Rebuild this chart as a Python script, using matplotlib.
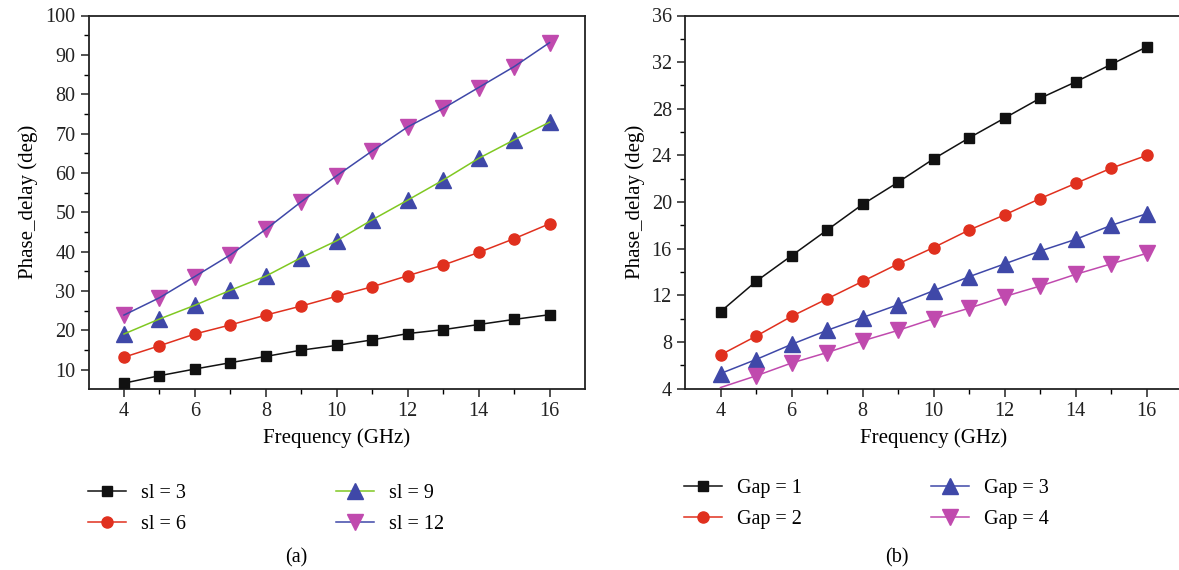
import numpy as np
import matplotlib
matplotlib.use('Agg')
import matplotlib.pyplot as plt
from matplotlib.lines import Line2D
from matplotlib.ticker import MultipleLocator

plt.rcParams['font.family'] = ['Liberation Serif', 'DejaVu Serif']

# data
freq = [4, 5, 6, 7, 8, 9, 10, 11, 12, 13, 14, 15, 16]

sl3 = [6.6, 8.5, 10.2, 11.8, 13.4, 15.0, 16.2, 17.6, 19.2, 20.2, 21.5, 22.8, 24.0]
sl6 = [13.2, 16.1, 19.1, 21.4, 23.9, 26.2, 28.7, 31.1, 33.9, 36.6, 39.8, 43.3, 47.1]
sl9 = [19.1, 22.9, 26.4, 30.2, 33.8, 38.5, 42.8, 48.1, 53.1, 58.2, 63.7, 68.4, 72.9]
sl12 = [23.9, 28.3, 33.7, 39.2, 45.7, 52.7, 59.3, 65.6, 71.7, 76.4, 81.7, 87.0, 93.1]

gap1 = [10.6, 13.2, 15.4, 17.6, 19.8, 21.7, 23.7, 25.5, 27.2, 28.9, 30.3, 31.8, 33.3]
gap2 = [6.9, 8.5, 10.2, 11.7, 13.2, 14.7, 16.1, 17.6, 18.9, 20.3, 21.6, 22.9, 24.0]
gap3 = [5.3, 6.5, 7.8, 9.0, 10.1, 11.2, 12.4, 13.6, 14.7, 15.8, 16.8, 18.0, 19.0]
gap4 = [4.1, 5.1, 6.2, 7.1, 8.1, 9.0, 10.0, 10.9, 11.9, 12.8, 13.8, 14.7, 15.6]

labels_a = ['sl = 3', 'sl = 6', 'sl = 9', 'sl = 12']
labels_b = ['Gap = 1', 'Gap = 2', 'Gap = 3', 'Gap = 4']

black = '#111111'
red = '#e0301e'
blue = '#3f48a8'
magenta = '#c04aae'
green = '#80c822'

# (marker, marker colour, line colour, marker size)
style_a = [('s', black, black, 7.5), ('o', red, red, 8), ('^', blue, green, 11), ('v', magenta, blue, 11)]
style_b = [('s', black, black, 7.5), ('o', red, red, 8), ('^', blue, blue, 11), ('v', magenta, magenta, 11)]

fs = 14.5

fig = plt.figure(figsize=(11.79, 5.70), dpi=100)
W, H = 1179.0, 570.0
ax1 = fig.add_axes([88.5 / W, 1 - 388.7 / H, (585 - 88.5) / W, (388.7 - 15.5) / H])
ax2 = fig.add_axes([685 / W, 1 - 388.7 / H, (1182 - 685) / W, (388.7 - 15.5) / H])


def draw(ax, series, styles, labels, skip_first=None):
    handles = []
    for i, (y, st, lab) in enumerate(zip(series, styles, labels)):
        m, mc, lc, ms = st
        mk_x, mk_y = freq, y
        if skip_first == i:
            mk_x, mk_y = freq[1:], y[1:]
        ax.plot(mk_x, mk_y, ls='none', marker=m, ms=ms, color=mc, zorder=3)
        ax.plot(freq, y, '-', color=lc, lw=1.1, zorder=4)
        handles.append(Line2D([], [], color=lc, lw=1.1, marker=m, ms=ms,
                              mfc=mc, mec=mc, label=lab))
    ax.set_xlim(3, 17)
    ax.set_xticks(range(4, 17, 2))
    ax.set_xticks(range(5, 17, 2), minor=True)
    ax.set_xlabel('Frequency (GHz)', fontsize=15, labelpad=5)
    ax.set_ylabel('Phase_delay (deg)', fontsize=15, labelpad=5)
    ax.tick_params(which='major', direction='out', length=6, width=1.1, labelsize=fs, colors='#222222')
    ax.tick_params(which='minor', direction='out', length=3.5, width=1.0)
    for s in ax.spines.values():
        s.set_linewidth(1.3)
        s.set_color('#222222')
    return handles


h1 = draw(ax1, [sl3, sl6, sl9, sl12], style_a, labels_a)
ax1.set_ylim(5.2, 100)
ax1.set_yticks(range(10, 101, 10))
ax1.yaxis.set_minor_locator(MultipleLocator(5))

h2 = draw(ax2, [gap1, gap2, gap3, gap4], style_b, labels_b, skip_first=3)
ax2.set_ylim(4, 36)
ax2.set_yticks(range(4, 37, 4))
ax2.yaxis.set_minor_locator(MultipleLocator(2))

leg_kw = dict(frameon=False, fontsize=fs, handlelength=1.9, handletextpad=0.75,
              labelspacing=0.6, borderaxespad=0, borderpad=0)
fig.legend(handles=h1[:2], loc='center left', bbox_to_anchor=(88 / W, 1 - 509 / H), **leg_kw)
fig.legend(handles=h1[2:], loc='center left', bbox_to_anchor=(336 / W, 1 - 509 / H), **leg_kw)
fig.legend(handles=h2[:2], loc='center left', bbox_to_anchor=(684 / W, 1 - 504 / H), **leg_kw)
fig.legend(handles=h2[2:], loc='center left', bbox_to_anchor=(931 / W, 1 - 504 / H), **leg_kw)

fig.text(296 / W, 1 - 558 / H, '(a)', ha='center', va='center', fontsize=fs)
fig.text(897 / W, 1 - 558 / H, '(b)', ha='center', va='center', fontsize=fs)

fig.savefig('out.png', dpi=100)
